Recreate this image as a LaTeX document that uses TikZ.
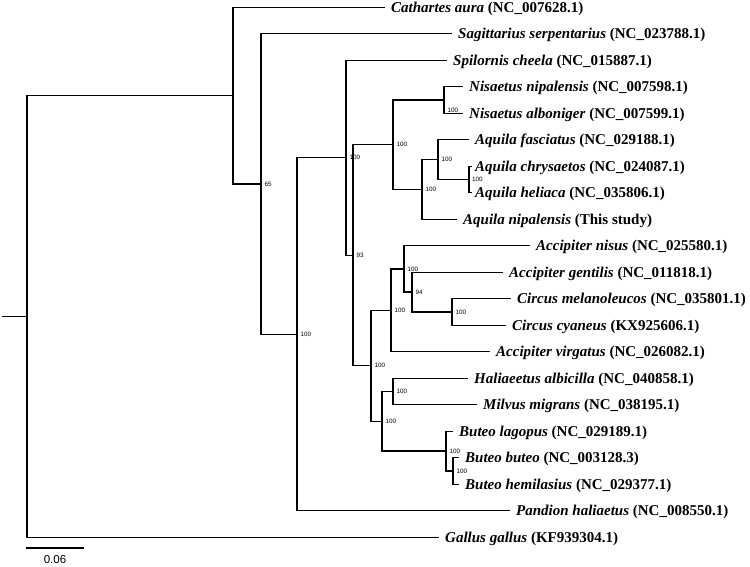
\documentclass[tikz,border=0pt]{standalone}
\usepackage{fontspec}
\setmainfont{Liberation Serif}
\newfontfamily\bsfont{Liberation Sans}
\begin{document}
\begin{tikzpicture}[x=1pt,y=-1pt,
  branch/.style={line width=1.2pt, line join=miter},
  leaf/.style={anchor=base west, inner sep=0pt, font=\fontsize{15}{17}\selectfont\bfseries},
  boot/.style={anchor=west, inner sep=0pt, font=\bsfont\fontsize{6.3}{7}\selectfont, xshift=3.5pt},
  scalelbl/.style={inner sep=0pt, font=\bsfont\fontsize{11.5}{13}\selectfont}]
\useasboundingbox (0,0) rectangle (750,567);
% internal nodes
\coordinate (rootstub) at (2,316.4);
\coordinate (root) at (27,316.4);
\coordinate (A) at (233,95.7);
\coordinate (B) at (261,184);
\coordinate (C) at (297,334.2);
\coordinate (D) at (346,157.8);
\coordinate (E) at (353,255.2);
\coordinate (F) at (393,144.7);
\coordinate (Nis) at (444,100);
\coordinate (Aq) at (422,189.4);
\coordinate (AqF) at (438,159.6);
\coordinate (AqCH) at (469,179.5);
\coordinate (G) at (371,365.8);
\coordinate (H) at (391,310.3);
\coordinate (I) at (404,268.9);
\coordinate (J) at (412,292);
\coordinate (K) at (452,312);
\coordinate (L) at (382,421.2);
\coordinate (M) at (393,391.4);
\coordinate (N) at (446,451);
\coordinate (O) at (453,470.9);
% tips
\coordinate (t0) at (385,7.3);
\coordinate (t1) at (452,33.8);
\coordinate (t2) at (447,60.3);
\coordinate (t3) at (463,86.8);
\coordinate (t4) at (463,113.3);
\coordinate (t5) at (469,139.8);
\coordinate (t6) at (472,166.2);
\coordinate (t7) at (472,192.7);
\coordinate (t8) at (457,219.2);
\coordinate (t9) at (530,245.7);
\coordinate (t10) at (503,272.2);
\coordinate (t11) at (511,298.7);
\coordinate (t12) at (506,325.2);
\coordinate (t13) at (490,351.7);
\coordinate (t14) at (468,378.2);
\coordinate (t15) at (477,404.6);
\coordinate (t16) at (453,431.1);
\coordinate (t17) at (459,457.6);
\coordinate (t18) at (459,484.1);
\coordinate (t19) at (510,510.6);
\coordinate (t20) at (439,537.1);
% internal branches
\draw[branch] (rootstub) -- (root);
\draw[branch] (root) |- (A);
\draw[branch] (A) |- (B);
\draw[branch] (B) |- (C);
\draw[branch] (C) |- (D);
\draw[branch] (D) |- (E);
\draw[branch] (E) |- (F);
\draw[branch] (F) |- (Nis);
\draw[branch] (F) |- (Aq);
\draw[branch] (Aq) |- (AqF);
\draw[branch] (AqF) |- (AqCH);
\draw[branch] (E) |- (G);
\draw[branch] (G) |- (H);
\draw[branch] (H) |- (I);
\draw[branch] (I) |- (J);
\draw[branch] (J) |- (K);
\draw[branch] (G) |- (L);
\draw[branch] (L) |- (M);
\draw[branch] (L) |- (N);
\draw[branch] (N) |- (O);
% terminal branches
\draw[branch] (A) |- (t0);
\draw[branch] (B) |- (t1);
\draw[branch] (D) |- (t2);
\draw[branch] (Nis) |- (t3);
\draw[branch] (Nis) |- (t4);
\draw[branch] (AqF) |- (t5);
\draw[branch] (AqCH) |- (t6);
\draw[branch] (AqCH) |- (t7);
\draw[branch] (Aq) |- (t8);
\draw[branch] (I) |- (t9);
\draw[branch] (J) |- (t10);
\draw[branch] (K) |- (t11);
\draw[branch] (K) |- (t12);
\draw[branch] (H) |- (t13);
\draw[branch] (M) |- (t14);
\draw[branch] (M) |- (t15);
\draw[branch] (N) |- (t16);
\draw[branch] (O) |- (t17);
\draw[branch] (O) |- (t18);
\draw[branch] (C) |- (t19);
\draw[branch] (root) |- (t20);
% leaf labels
\node[leaf] (l0) at ([xshift=6pt,yshift=-5.2pt]t0) {\textit{Cathartes aura} (NC\_007628.1)};
\node[leaf] (l1) at ([xshift=6pt,yshift=-5.2pt]t1) {\textit{Sagittarius serpentarius} (NC\_023788.1)};
\node[leaf] (l2) at ([xshift=6pt,yshift=-5.2pt]t2) {\textit{Spilornis cheela} (NC\_015887.1)};
\node[leaf] (l3) at ([xshift=6pt,yshift=-5.2pt]t3) {\textit{Nisaetus nipalensis} (NC\_007598.1)};
\node[leaf] (l4) at ([xshift=6pt,yshift=-5.2pt]t4) {\textit{Nisaetus alboniger} (NC\_007599.1)};
\node[leaf] (l5) at ([xshift=6pt,yshift=-5.2pt]t5) {\textit{Aquila fasciatus} (NC\_029188.1)};
\node[leaf] (l6) at ([xshift=3pt,yshift=-5.2pt]t6) {\textit{Aquila chrysaetos} (NC\_024087.1)};
\node[leaf] (l7) at ([xshift=3pt,yshift=-5.2pt]t7) {\textit{Aquila heliaca} (NC\_035806.1)};
\node[leaf] (l8) at ([xshift=6pt,yshift=-5.2pt]t8) {\textit{Aquila nipalensis} (This study)};
\node[leaf] (l9) at ([xshift=6pt,yshift=-5.2pt]t9) {\textit{Accipiter nisus} (NC\_025580.1)};
\node[leaf] (l10) at ([xshift=6pt,yshift=-5.2pt]t10) {\textit{Accipiter gentilis} (NC\_011818.1)};
\node[leaf] (l11) at ([xshift=6pt,yshift=-5.2pt]t11) {\textit{Circus melanoleucos} (NC\_035801.1)};
\node[leaf] (l12) at ([xshift=6pt,yshift=-5.2pt]t12) {\textit{Circus cyaneus} (KX925606.1)};
\node[leaf] (l13) at ([xshift=6pt,yshift=-5.2pt]t13) {\textit{Accipiter virgatus} (NC\_026082.1)};
\node[leaf] (l14) at ([xshift=6pt,yshift=-5.2pt]t14) {\textit{Haliaeetus albicilla} (NC\_040858.1)};
\node[leaf] (l15) at ([xshift=6pt,yshift=-5.2pt]t15) {\textit{Milvus migrans} (NC\_038195.1)};
\node[leaf] (l16) at ([xshift=6pt,yshift=-5.2pt]t16) {\textit{Buteo lagopus} (NC\_029189.1)};
\node[leaf] (l17) at ([xshift=6pt,yshift=-5.2pt]t17) {\textit{Buteo buteo} (NC\_003128.3)};
\node[leaf] (l18) at ([xshift=6pt,yshift=-5.2pt]t18) {\textit{Buteo hemilasius} (NC\_029377.1)};
\node[leaf] (l19) at ([xshift=6pt,yshift=-5.2pt]t19) {\textit{Pandion haliaetus} (NC\_008550.1)};
\node[leaf] (l20) at ([xshift=6pt,yshift=-5.2pt]t20) {\textit{Gallus gallus} (KF939304.1)};
% bootstrap values
\node[boot] (bB) at (B) {65};
\node[boot] (bC) at (C) {100};
\node[boot] (bD) at (D) {100};
\node[boot] (bE) at (E) {93};
\node[boot] (bF) at (F) {100};
\node[boot,yshift=-10pt] (bNis) at (Nis) {100};
\node[boot] (bAq) at (Aq) {100};
\node[boot] (bAqF) at (AqF) {100};
\node[boot,xshift=-0.5pt] (bAqCH) at (AqCH) {100};
\node[boot] (bG) at (G) {100};
\node[boot] (bH) at (H) {100};
\node[boot] (bI) at (I) {100};
\node[boot] (bJ) at (J) {94};
\node[boot] (bK) at (K) {100};
\node[boot] (bL) at (L) {100};
\node[boot] (bM) at (M) {100};
\node[boot] (bN) at (N) {100};
\node[boot] (bO) at (O) {100};
% scale bar
\coordinate (sb1) at (26,548);
\coordinate (sb2) at (84,548);
\draw[branch] (sb1) -- (sb2);
\node[scalelbl] (sbl) at (55,560) {0.06};
\end{tikzpicture}
\end{document}
